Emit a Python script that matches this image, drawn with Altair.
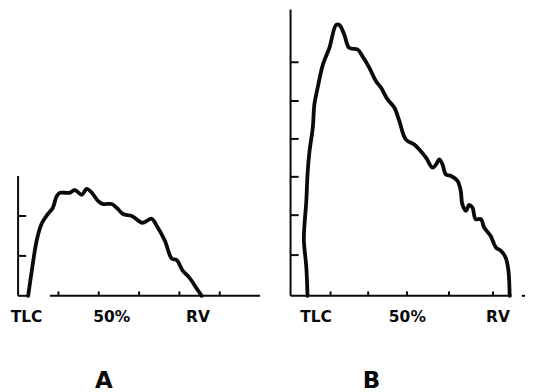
import altair as alt
import pandas as pd

# ---- Panel A: flow-volume curve (volume units, flow units) ----
a_vol = [0.25, 0.34, 0.46, 0.58, 0.74, 0.86, 0.96, 1.04, 1.28, 1.41, 1.58, 1.70, 1.83,
         1.98, 2.10, 2.32, 2.45, 2.60, 2.82, 3.09, 3.31, 3.44, 3.64, 3.81, 3.93, 4.08,
         4.25, 4.43, 4.55]
a_flow = [0.00, 0.63, 1.38, 1.80, 2.05, 2.20, 2.50, 2.58, 2.58, 2.65, 2.53, 2.68, 2.58,
          2.38, 2.30, 2.30, 2.20, 2.05, 2.00, 1.83, 1.93, 1.75, 1.38, 0.93, 0.90, 0.63,
          0.45, 0.18, 0.00]

# ---- Panel B ----
b_vol = [0.42, 0.39, 0.33, 0.34, 0.39, 0.42, 0.47, 0.55, 0.59, 0.67, 0.80, 0.96, 1.13,
         1.21, 1.33, 1.45, 1.66, 1.78, 1.95, 2.11, 2.24, 2.40, 2.57, 2.69, 2.85, 3.06,
         3.18, 3.35, 3.51, 3.60, 3.68, 3.76, 3.84, 3.97, 4.13, 4.21, 4.25, 4.34, 4.42,
         4.50, 4.58, 4.71, 4.79, 4.95, 5.08, 5.20, 5.32, 5.39, 5.42]
b_flow = [0.00, 0.71, 1.38, 1.71, 2.38, 3.05, 3.63, 4.21, 4.80, 5.21, 5.79, 6.21, 6.79,
          6.78, 6.54, 6.21, 6.17, 6.00, 5.71, 5.38, 5.21, 4.92, 4.71, 4.38, 3.92, 3.79,
          3.67, 3.46, 3.21, 3.29, 3.42, 3.29, 3.04, 3.00, 2.88, 2.63, 2.29, 2.13, 2.28,
          2.21, 1.92, 1.92, 1.71, 1.50, 1.21, 1.13, 0.96, 0.63, 0.00]

# axis ticks
a_xticks = [1, 2, 3, 4, 5]
a_yticks = [1, 2]
a_ytop = 3.0
a_baselines = [(0.0, 0.22), (0.79, 6.0)]
b_xticks = [0.99, 1.92, 2.88, 3.92, 5.01]
b_yticks = [1.02, 2.02, 2.98, 3.93, 4.88, 5.85]
b_ytop = 7.17
b_baselines = [(0.0, 5.47), (5.72, 5.8)]

# axis labels
x_labels = ["TLC", "50%", "RV"]
a_label_pos = [0.21, 2.32, 4.46]
b_label_pos = [0.63, 2.89, 5.13]
panel_names = ["A", "B"]
panel_letter_pos = [2.13, 2.0]

Y_DOMAIN = [-2.225, 7.175]
INK = "#0a0a0a"


def panel(vol, flow, xticks, yticks, ytop, baselines, label_pos, letter, letter_x,
          xdomain, width):
    xs = alt.Scale(domain=xdomain, nice=False, zero=False)
    ys = alt.Scale(domain=Y_DOMAIN, nice=False, zero=False)
    X = lambda f: alt.X(f, type="quantitative", scale=xs, axis=None)
    Y = lambda f: alt.Y(f, type="quantitative", scale=ys, axis=None)

    curve_df = pd.DataFrame({"v": vol, "f": flow, "i": range(len(vol))})
    curve = alt.Chart(curve_df).mark_line(
        color=INK, strokeWidth=3.8, strokeJoin="round", strokeCap="round",
        interpolate="catmull-rom"
    ).encode(x=X("v"), y=Y("f"), order="i:Q")

    yaxis = alt.Chart(pd.DataFrame({"x": [0.0], "y": [0.0], "y2": [ytop]})).mark_rule(
        color=INK, strokeWidth=2
    ).encode(x=X("x"), y=Y("y"), y2="y2")

    base_df = pd.DataFrame({"x": [b[0] for b in baselines],
                            "x2": [b[1] for b in baselines],
                            "y": [0.0] * len(baselines)})
    base = alt.Chart(base_df).mark_rule(color=INK, strokeWidth=2).encode(
        x=X("x"), x2="x2", y=Y("y"))

    xt_df = pd.DataFrame({"x": xticks, "y": [0.0] * len(xticks),
                          "y2": [0.11] * len(xticks)})
    xt = alt.Chart(xt_df).mark_rule(color=INK, strokeWidth=2).encode(
        x=X("x"), y=Y("y"), y2="y2")

    yt_df = pd.DataFrame({"y": yticks, "x": [0.0] * len(yticks),
                          "x2": [0.2] * len(yticks)})
    yt = alt.Chart(yt_df).mark_rule(color=INK, strokeWidth=2).encode(
        x=X("x"), x2="x2", y=Y("y"))

    lab_df = pd.DataFrame({"x": label_pos, "y": [-0.52] * 3, "t": x_labels})
    labs = alt.Chart(lab_df).mark_text(
        font="DejaVu Sans", fontWeight="bold", fontSize=15.5, color=INK,
        align="center", baseline="middle"
    ).encode(x=X("x"), y=Y("y"), text="t:N")

    let_df = pd.DataFrame({"x": [letter_x], "y": [-2.14], "t": [letter]})
    let = alt.Chart(let_df).mark_text(
        font="DejaVu Sans", fontWeight="bold", fontSize=23, color=INK,
        align="center", baseline="middle"
    ).encode(x=X("x"), y=Y("y"), text="t:N")

    return alt.layer(yaxis, base, xt, yt, curve, labs, let).properties(
        width=width, height=376)


pa = panel(a_vol, a_flow, a_xticks, a_yticks, a_ytop, a_baselines, a_label_pos,
           panel_names[0], panel_letter_pos[0], [-0.25, 6.06], 255)
pb = panel(b_vol, b_flow, b_xticks, b_yticks, b_ytop, b_baselines, b_label_pos,
           panel_names[1], panel_letter_pos[1], [-0.2, 5.8], 243)

chart = alt.hconcat(pa, pb, spacing=20).properties(
    padding=0, background="white"
).configure_view(stroke=None)

chart.save("out.html", embed_options={"renderer": "svg", "actions": False})
